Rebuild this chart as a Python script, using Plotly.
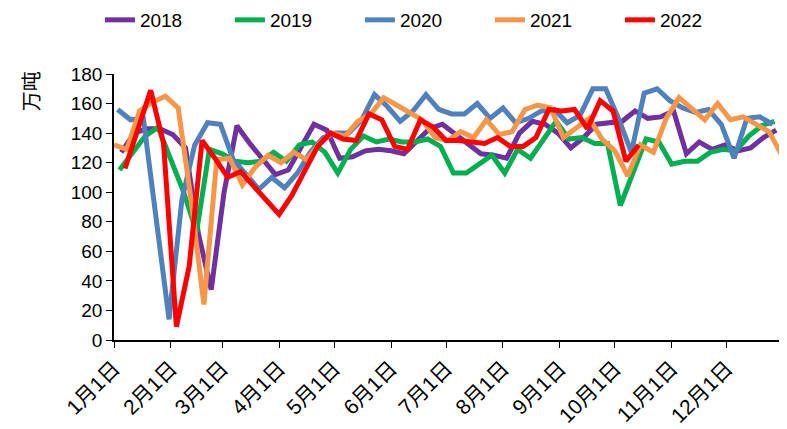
import pandas as pd
import plotly.graph_objects as go

# ---- data (weekly values, 万吨) ----
years = ["2018", "2019", "2020", "2021", "2022"]
colors = ["#7030A0", "#00B050", "#4F81BD", "#F79646", "#FF0000"]
# first weekly date of each year, mapped onto a common calendar year
start_dates = ["2021-01-05", "2021-01-04", "2021-01-03", "2021-01-01", "2021-01-07"]

v2018 = [127, 140, 143, 143, 139, 130, 72, 34, 100, 145, 133, 122, 112, 115, 130, 146,
         142, 123, 124, 128, 129, 128, 126, 134, 143, 146, 139, 132, 126, 125, 123, 140,
         148, 146, 140, 130, 137, 146, 147, 148, 155, 150, 151, 155, 126, 134, 129, 132,
         128, 130, 137, 142]
v2019 = [115, 127, 138, 144, 122, 100, 73, 129, 126, 121, 120, 121, 127, 121, 132, 134,
         127, 113, 129, 138, 134, 136, 134, 134, 136, 131, 113, 113, 119, 125, 113, 129,
         123, 136, 148, 136, 137, 133, 133, 91, 113, 136, 134, 119, 121, 121, 127, 129,
         128, 138, 145, 148]
v2020 = [156, 149, 150, 85, 14, 95, 132, 147, 146, 122, 112, 102, 110, 103, 113, 127,
         137, 140, 140, 149, 166, 158, 148, 155, 166, 156, 153, 153, 160, 150, 157, 147,
         150, 155, 156, 147, 152, 170, 170, 150, 127, 167, 170, 162, 157, 154, 156, 146,
         123, 150, 151, 146]
v2021 = [132, 129, 155, 161, 165, 157, 95, 24, 122, 123, 105, 117, 125, 120, 127, 122,
         133, 140, 138, 148, 153, 164, 159, 154, 149, 137, 135, 141, 137, 149, 139, 141,
         156, 159, 157, 137, 143, 150, 136, 128, 111, 132, 127, 150, 164, 156, 149, 160,
         149, 151, 146, 141, 125]
v2022 = [116, 143, 169, 133, 9, 50, 135, 123, 110, 114, 104, 94, 85, 98, 115, 131,
         140, 136, 135, 153, 149, 131, 129, 149, 144, 135, 135, 134, 133, 137, 131, 131,
         137, 156, 155, 156, 143, 162, 155, 121, 132]
series_values = [v2018, v2019, v2020, v2021, v2022]

month_ticks = [f"2021-{m:02d}-01" for m in range(1, 13)]
month_labels = ["1月1日", "2月1日", "3月1日", "4月1日", "5月1日", "6月1日",
                "7月1日", "8月1日", "9月1日", "10月1日", "11月1日", "12月1日"]
y_ticks = list(range(0, 181, 20))

FONT = "Liberation Sans Narrow, Liberation Sans, Arial, Noto Sans CJK SC"

fig = go.Figure()
for name, col, start, vals in zip(years, colors, start_dates, series_values):
    xs = pd.date_range(start, periods=len(vals), freq="7D")
    fig.add_trace(go.Scatter(x=xs, y=vals, name=name, mode="lines",
                             line=dict(color=col, width=5)))

# the page body adds an 8px offset, so the figure is sized to fill the rest
fig.update_layout(
    width=779, height=421,
    margin=dict(l=106, r=0, t=66, b=89, autoexpand=False),
    paper_bgcolor="white", plot_bgcolor="white",
    font=dict(family=FONT, size=17, color="black"),
    showlegend=True,
    legend=dict(orientation="h", xref="container", yref="container",
                x=0.118, y=0.9715, xanchor="left", yanchor="middle",
                entrywidth=85, entrywidthmode="pixels", itemwidth=30,
                font=dict(size=19, family=FONT), bgcolor="rgba(0,0,0,0)"),
)
fig.update_xaxes(
    type="date", range=["2021-01-01", "2022-01-02 20:00"],
    tickmode="array", tickvals=month_ticks, ticktext=month_labels,
    tickangle=-45, ticks="outside", ticklen=6, tickcolor="black",
    showline=True, linecolor="black", linewidth=1.5,
    showgrid=False, zeroline=False, automargin=False,
    tickfont=dict(size=21, family=FONT),
)
fig.update_yaxes(
    range=[0, 180], tickmode="array", tickvals=y_ticks,
    ticks="outside", ticklen=6, tickcolor="black",
    showline=True, linecolor="black", linewidth=1.5,
    showgrid=False, zeroline=False, automargin=False,
    tickfont=dict(size=19, family=FONT),
)
fig.add_annotation(text="万吨", xref="paper", yref="paper",
                   x=-0.125, y=0.935, xanchor="center", yanchor="middle",
                   textangle=-90, showarrow=False,
                   font=dict(size=20, family="Noto Sans CJK SC", color="black"))

fig.write_html("out.html")
